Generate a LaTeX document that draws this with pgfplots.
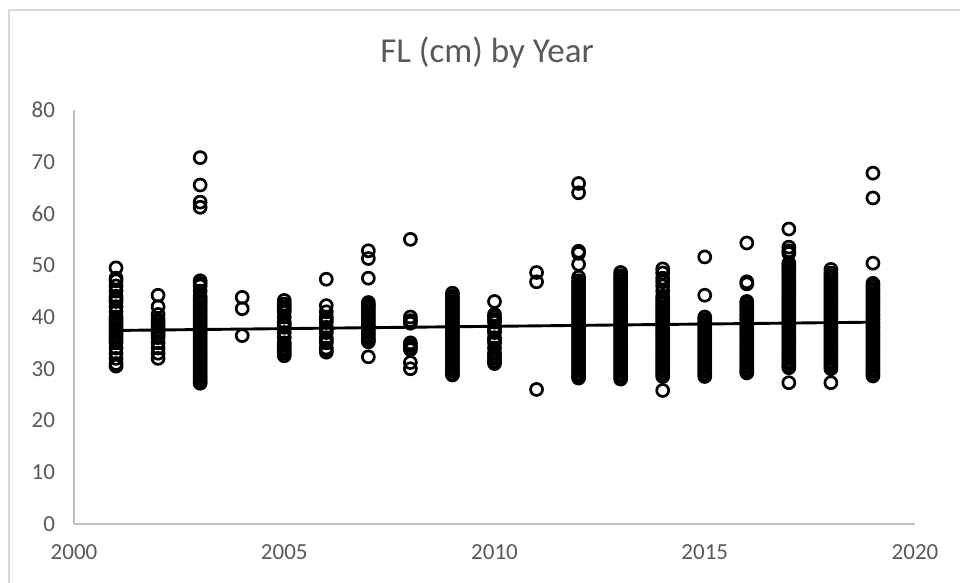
\documentclass[border=0pt]{standalone}
\usepackage{fontspec}
\setmainfont{Carlito}
\usepackage{pgfplots}
\pgfplotsset{compat=1.18}
\definecolor{txt}{HTML}{595959}
\definecolor{axl}{HTML}{BFBFBF}
\definecolor{brd}{HTML}{D9D9D9}
\begin{document}
\begin{tikzpicture}
\path[use as bounding box] (0,0) rectangle (480pt,291.5pt);
\draw[brd, line width=1pt] (4.5pt,-2pt) -- (4.5pt,286.5pt) -- (482pt,286.5pt);
\node[anchor=base, text=txt, font=\fontsize{17.5}{20}\selectfont] at (243.5pt,260pt) {FL (cm) by Year};
\begin{axis}[
  at={(37pt,29.5pt)}, anchor=south west,
  scale only axis, width=420.5pt, height=207pt,
  xmin=2000, xmax=2020, ymin=0, ymax=80,
  xtick={2000,2005,2010,2015,2020},
  ytick={0,10,20,30,40,50,60,70,80},
  axis lines=left,
  axis line style={-, axl, line width=0.8pt},
  major tick length=0pt,
  tick style={draw=none},
  /pgf/number format/1000 sep={},
  /pgf/number format/assume math mode=true,
  ticklabel style={text=txt, font=\fontsize{11.5}{13}\selectfont},
  yticklabel style={anchor=east, xshift=-6pt},
  xticklabel style={anchor=north, yshift=-7pt},
  clip=false,
]
\addplot[only marks, mark=o, mark size=3pt, line width=1.35pt, black] coordinates {
(2001,49.5)(2001,47.5)(2001,47)(2001,46)(2001,45)(2001,44)(2001,43.5)(2001,43)(2001,42)(2001,41)(2001,40)(2001,39.5)(2001,39)(2001,38.5)(2001,38)(2001,37.5)(2001,37)(2001,36.5)(2001,36)(2001,35.5)(2001,35)(2001,34)(2001,33)(2001,32)(2001,31)(2001,30.5)
(2002,44.2)(2002,42)(2002,40.5)(2002,39.5)(2002,39)(2002,38.5)(2002,38)(2002,37.5)(2002,37)(2002,36.5)(2002,36)(2002,35)(2002,34)(2002,33)(2002,32)
(2003,70.8)(2003,65.5)(2003,62.2)(2003,61.2)(2003,47)(2003,46.5)(2003,46)(2003,45)(2003,44)(2003,43.5)(2003,43)(2003,42.5)(2003,42)(2003,41.5)(2003,41)(2003,40.5)(2003,40)(2003,39.5)(2003,39)(2003,38.5)(2003,38)(2003,37.5)(2003,37)(2003,36.5)(2003,36)(2003,35.5)(2003,35)(2003,34.5)(2003,34)(2003,33.5)(2003,33)(2003,32.5)(2003,32)(2003,31.5)(2003,31)(2003,30.5)(2003,30)(2003,29.5)(2003,29)(2003,28.5)(2003,28)(2003,27.5)(2003,27.2)
(2004,43.8)(2004,41.6)(2004,36.4)
(2005,43.2)(2005,42.5)(2005,42)(2005,41.5)(2005,41)(2005,40)(2005,39)(2005,38.5)(2005,38)(2005,37)(2005,36)(2005,35)(2005,34.5)(2005,34)(2005,33.5)(2005,33)(2005,32.5)
(2006,47.3)(2006,42.2)(2006,41)(2006,40)(2006,39.5)(2006,39)(2006,38)(2006,37.5)(2006,37)(2006,36)(2006,35.5)(2006,35)(2006,34)(2006,33.5)(2006,33.2)
(2007,52.8)(2007,51.3)(2007,47.5)(2007,42.8)(2007,42.3)(2007,42)(2007,41.5)(2007,41)(2007,40.5)(2007,40)(2007,39.5)(2007,39)(2007,38.5)(2007,38)(2007,37.5)(2007,37)(2007,36.5)(2007,36)(2007,35.5)(2007,35.2)(2007,32.3)
(2008,55)(2008,40)(2008,39.3)(2008,38.8)(2008,35)(2008,34.5)(2008,34)(2008,33.7)(2008,31.2)(2008,30)
(2009,44.6)(2009,44)(2009,43.5)(2009,43)(2009,42.5)(2009,42)(2009,41.5)(2009,41)(2009,40.5)(2009,40)(2009,39.5)(2009,39)(2009,38.5)(2009,38)(2009,37.5)(2009,37)(2009,36.5)(2009,36)(2009,35.5)(2009,35)(2009,34.5)(2009,34)(2009,33.5)(2009,33)(2009,32.5)(2009,32)(2009,31.5)(2009,31)(2009,30.5)(2009,30)(2009,29.5)(2009,29)(2009,28.8)
(2010,43)(2010,40.5)(2010,40)(2010,39.5)(2010,39)(2010,38)(2010,37.5)(2010,37)(2010,36)(2010,35.5)(2010,35)(2010,34)(2010,33)(2010,32.5)(2010,32)(2010,31.5)(2010,31)
(2011,48.6)(2011,46.8)(2011,26)
(2012,65.8)(2012,64)(2012,52.7)(2012,52.3)(2012,50.2)(2012,47.7)(2012,47)(2012,46.5)(2012,46)(2012,45.5)(2012,45)(2012,44.5)(2012,44)(2012,43.5)(2012,43)(2012,42.5)(2012,42)(2012,41.5)(2012,41)(2012,40.5)(2012,40)(2012,39.5)(2012,39)(2012,38.5)(2012,38)(2012,37.5)(2012,37)(2012,36.5)(2012,36)(2012,35.5)(2012,35)(2012,34.5)(2012,34)(2012,33.5)(2012,33)(2012,32.5)(2012,32)(2012,31.5)(2012,31)(2012,30.5)(2012,30)(2012,29.5)(2012,29)(2012,28.5)(2012,28.2)
(2013,48.6)(2013,48)(2013,47.5)(2013,47)(2013,46.5)(2013,46)(2013,45.5)(2013,45)(2013,44.5)(2013,44)(2013,43.5)(2013,43)(2013,42.5)(2013,42)(2013,41.5)(2013,41)(2013,40.5)(2013,40)(2013,39.5)(2013,39)(2013,38.5)(2013,38)(2013,37.5)(2013,37)(2013,36.5)(2013,36)(2013,35.5)(2013,35)(2013,34.5)(2013,34)(2013,33.5)(2013,33)(2013,32.5)(2013,32)(2013,31.5)(2013,31)(2013,30.5)(2013,30)(2013,29.5)(2013,29)(2013,28.5)(2013,28)
(2014,49.3)(2014,48.5)(2014,47.5)(2014,46.8)(2014,46)(2014,45)(2014,44)(2014,43.5)(2014,43)(2014,42.5)(2014,42)(2014,41.5)(2014,41)(2014,40.5)(2014,40)(2014,39.5)(2014,39)(2014,38.5)(2014,38)(2014,37.5)(2014,37)(2014,36.5)(2014,36)(2014,35.5)(2014,35)(2014,34.5)(2014,34)(2014,33.5)(2014,33)(2014,32.5)(2014,32)(2014,31.5)(2014,31)(2014,30.5)(2014,30)(2014,29.5)(2014,29)(2014,28.5)(2014,25.8)
(2015,51.6)(2015,44.2)(2015,40)(2015,39.5)(2015,39)(2015,38.5)(2015,38)(2015,37.5)(2015,37)(2015,36.5)(2015,36)(2015,35.5)(2015,35)(2015,34.5)(2015,34)(2015,33.5)(2015,33)(2015,32.5)(2015,32)(2015,31.5)(2015,31)(2015,30.5)(2015,30)(2015,29.5)(2015,29)(2015,28.5)
(2016,54.3)(2016,46.8)(2016,46.4)(2016,43)(2016,42.5)(2016,42)(2016,41.5)(2016,41)(2016,40.5)(2016,40)(2016,39.5)(2016,39)(2016,38.5)(2016,38)(2016,37.5)(2016,37)(2016,36.5)(2016,36)(2016,35.5)(2016,35)(2016,34.5)(2016,34)(2016,33.5)(2016,33)(2016,32.5)(2016,32)(2016,31.5)(2016,31)(2016,30.5)(2016,30)(2016,29.5)(2016,29.2)
(2017,57)(2017,53.5)(2017,52.8)(2017,52.3)(2017,50.4)(2017,50)(2017,49.5)(2017,49)(2017,48.5)(2017,48)(2017,47.5)(2017,47)(2017,46.5)(2017,46)(2017,45.5)(2017,45)(2017,44.5)(2017,44)(2017,43.5)(2017,43)(2017,42.5)(2017,42)(2017,41.5)(2017,41)(2017,40.5)(2017,40)(2017,39.5)(2017,39)(2017,38.5)(2017,38)(2017,37.5)(2017,37)(2017,36.5)(2017,36)(2017,35.5)(2017,35)(2017,34.5)(2017,34)(2017,33.5)(2017,33)(2017,32.5)(2017,32)(2017,31.5)(2017,31)(2017,30.5)(2017,30.2)(2017,27.3)
(2018,49.2)(2018,48.5)(2018,48)(2018,47.5)(2018,47)(2018,46.5)(2018,46)(2018,45.5)(2018,45)(2018,44.5)(2018,44)(2018,43.5)(2018,43)(2018,42.5)(2018,42)(2018,41.5)(2018,41)(2018,40.5)(2018,40)(2018,39.5)(2018,39)(2018,38.5)(2018,38)(2018,37.5)(2018,37)(2018,36.5)(2018,36)(2018,35.5)(2018,35)(2018,34.5)(2018,34)(2018,33.5)(2018,33)(2018,32.5)(2018,32)(2018,31.5)(2018,31)(2018,30.5)(2018,30)(2018,27.3)
(2019,67.8)(2019,63)(2019,50.4)(2019,46.5)(2019,46)(2019,45.5)(2019,45)(2019,44.5)(2019,44)(2019,43.5)(2019,43)(2019,42.5)(2019,42)(2019,41.5)(2019,41)(2019,40.5)(2019,40)(2019,39.5)(2019,39)(2019,38.5)(2019,38)(2019,37.5)(2019,37)(2019,36.5)(2019,36)(2019,35.5)(2019,35)(2019,34.5)(2019,34)(2019,33.5)(2019,33)(2019,32.5)(2019,32)(2019,31.5)(2019,31)(2019,30.5)(2019,30)(2019,29.5)(2019,29)(2019,28.6)
};
\addplot[black, line width=1.45pt, no marks] coordinates {(2001,37.4) (2019,39.0)};
\end{axis}
\end{tikzpicture}
\end{document}
